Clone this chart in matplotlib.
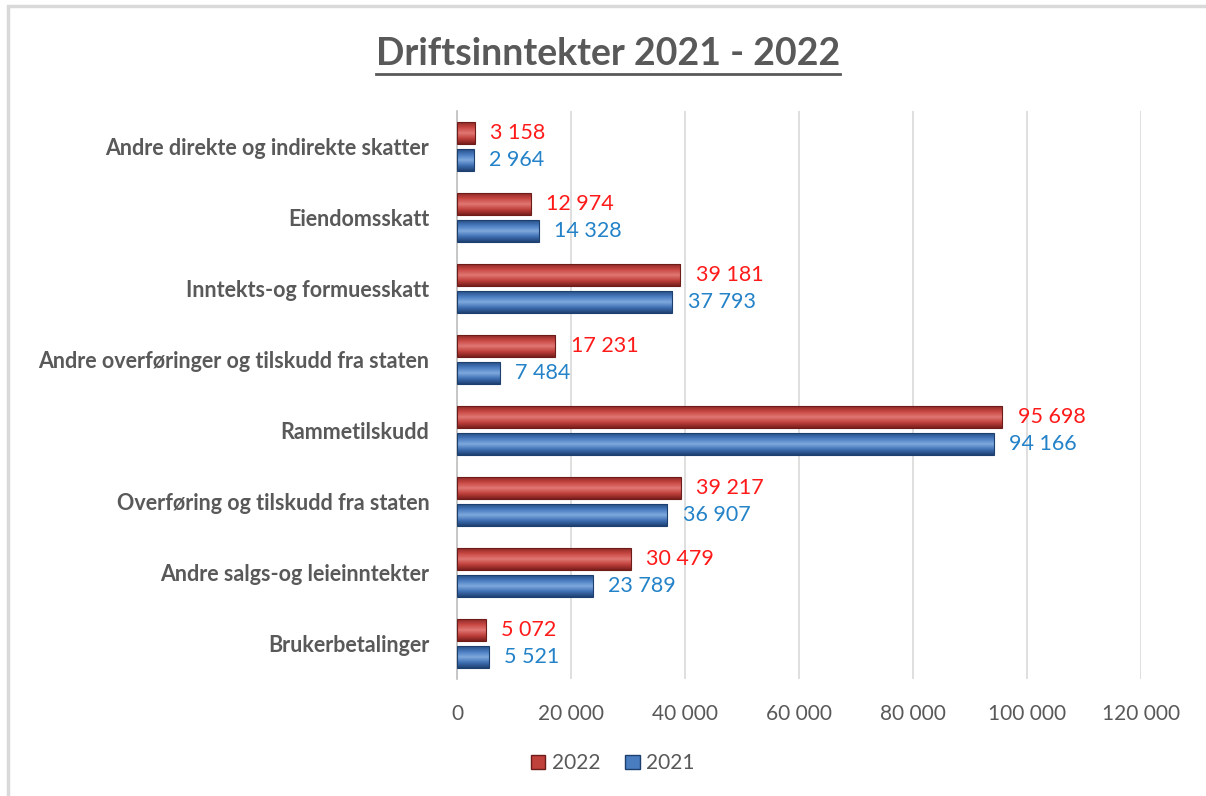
import numpy as np
import matplotlib.pyplot as plt
from matplotlib.colors import LinearSegmentedColormap
from matplotlib.patches import Rectangle
from matplotlib.lines import Line2D

categories = ["Andre direkte og indirekte skatter", "Eiendomsskatt", "Inntekts-og formuesskatt",
              "Andre overføringer og tilskudd fra staten", "Rammetilskudd",
              "Overføring og tilskudd fra staten", "Andre salgs-og leieinntekter", "Brukerbetalinger"]
v2022 = [3158, 12974, 39181, 17231, 95698, 39217, 30479, 5072]
v2021 = [2964, 14328, 37793, 7484, 94166, 36907, 23789, 5521]
xticks = [0, 20000, 40000, 60000, 80000, 100000, 120000]


def fmt(v):
    return f"{v:,}".replace(",", " ")


plt.rcParams['font.family'] = ['Lato', 'DejaVu Sans']
fig = plt.figure(figsize=(12.06, 7.96), dpi=100)
ax = fig.add_axes([0.379, 0.147, 0.567, 0.713])

y = np.arange(len(categories))
h = 0.31
off = 0.19
cm_red = LinearSegmentedColormap.from_list("r", ["#8E2A27", "#C94844", "#E07773", "#C0403C", "#7A1F1C"])
cm_blue = LinearSegmentedColormap.from_list("b", ["#274F86", "#4A7CC0", "#7FA9DE", "#3F70B3", "#1F4274"])
grad = np.linspace(0, 1, 64).reshape(-1, 1)

for vals, sign, cmap, edge, tcol in [(v2022, -1, cm_red, "#6E1C1A", "#FF1A1A"),
                                     (v2021, 1, cm_blue, "#1C3F6E", "#2382C8")]:
    bars = ax.barh(y + sign * off, vals, h, color="none", edgecolor=edge, lw=0.8, zorder=3)
    for b, v in zip(bars, vals):
        y0, y1 = b.get_y(), b.get_y() + b.get_height()
        im = ax.imshow(grad, cmap=cmap, extent=[0, v, y1, y0], aspect="auto", zorder=2)
        im.set_clip_path(b)
        ax.text(v + 2700, y0 + h / 2, fmt(v), va="center", ha="left", fontsize=15.5, color=tcol)

ax.set_ylim(len(categories) - 0.5, -0.5)
ax.set_xlim(0, 120000)
ax.set_yticks(y)
ax.set_yticklabels(categories, fontsize=15.5, fontweight="bold", color="#595959")
ax.set_xticks(xticks)
ax.set_xticklabels([fmt(t) for t in xticks], fontsize=15, color="#595959")
ax.tick_params(length=0)
ax.tick_params(axis="x", pad=18)
ax.tick_params(axis="y", pad=20)
ax.xaxis.grid(True, color="#D9D9D9", lw=1.2)
ax.set_axisbelow(True)
for s in ["top", "right", "bottom"]:
    ax.spines[s].set_visible(False)
ax.spines["left"].set_color("#BFBFBF")
ax.spines["left"].set_linewidth(1.2)

title = fig.text(0.504, 0.932, "Driftsinntekter 2021 - 2022", ha="center", va="center",
                 fontsize=27, fontweight="bold", color="#595959")
fig.canvas.draw()
bb = title.get_window_extent().transformed(fig.transFigure.inverted())
fig.add_artist(Line2D([bb.x0, bb.x1], [bb.y0 - 0.003, bb.y0 - 0.003], color="#595959", lw=2))

handles = [Rectangle((0, 0), 1, 1, facecolor="#C0403C", edgecolor="#6E1C1A"),
           Rectangle((0, 0), 1, 1, facecolor="#4A7CC0", edgecolor="#1C3F6E")]
leg = fig.legend(handles, ["2022", "2021"], loc="center", bbox_to_anchor=(0.508, 0.041), ncol=2,
                 frameon=False, fontsize=15, handlelength=0.7, handleheight=0.7,
                 handletextpad=0.3, columnspacing=1.2)
for t in leg.get_texts():
    t.set_color("#595959")

fig.add_artist(Rectangle((0.0065, -0.05), 1.1, 1.043, transform=fig.transFigure,
                         fill=False, edgecolor="#D9D9D9", lw=2.5))

fig.savefig("out.png", dpi=100)
